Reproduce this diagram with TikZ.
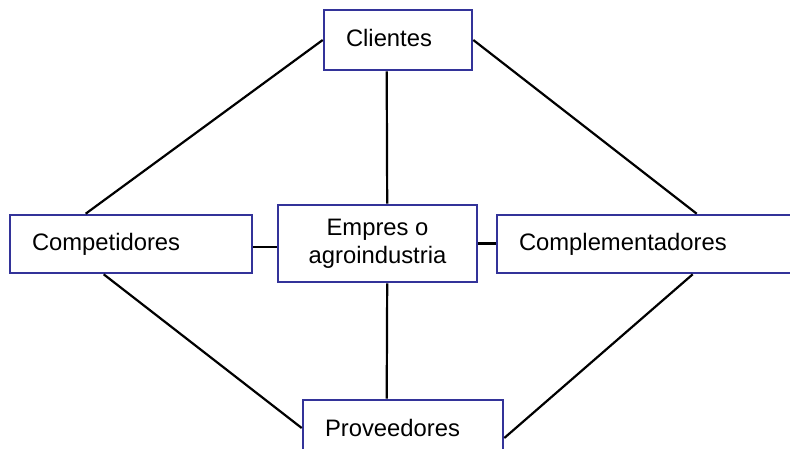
\documentclass[tikz,border=0pt]{standalone}
\usepackage{fontspec}
\setmainfont{Liberation Sans}
\definecolor{boxblue}{HTML}{333399}
\begin{document}
\begin{tikzpicture}[x=1pt, y=-1pt,
  box/.style={draw=boxblue, line width=2.6pt, fill=white, inner sep=0pt,
    font=\fontsize{23.8}{28}\selectfont},
  leftbox/.style={box, align=left, text height=17pt, text depth=5pt},
  link/.style={draw=black, line width=2.2pt}]
\clip (0,0) rectangle (790,448);
\fill[white] (0,0) rectangle (790,448);

% boxes
\node[leftbox, minimum width=148pt, minimum height=60pt, text width=104pt] (cli) at (398,40) {Clientes};
\node[leftbox, minimum width=242pt, minimum height=58pt, text width=198pt] (comp) at (131,244) {Competidores};
\node[box, minimum width=199pt, minimum height=77pt, align=center] (emp) at (377.5,243.5) {Empres o\\agroindustria};
\node[leftbox, minimum width=300pt, minimum height=58pt, text width=256pt] (compl) at (647,244) {Complementadores};
\node[leftbox, minimum width=200pt, minimum height=60pt, text width=156pt] (prov) at (403,430) {Proveedores};

% links between the boxes
\path[link] (cli.west) -- ([xshift=77pt]comp.north west);
\path[link] (cli.east) -- ([xshift=201pt]compl.north west);
\path[link] ([xshift=64pt]cli.south west) -- ([xshift=110.5pt]emp.north west);
\path[link] ([yshift=-3pt]comp.east) coordinate (ce) -- (ce -| emp.west);
\path[link] (emp.east) -- (emp.east -| compl.west);
\path[link] ([xshift=110.5pt]emp.south west) -- ([xshift=85pt]prov.north west);
\path[link] ([xshift=95pt]comp.south west) -- ([yshift=2pt]prov.west);
\path[link] ([xshift=197pt]compl.south west) -- ([yshift=-8pt]prov.east);
\end{tikzpicture}
\end{document}
